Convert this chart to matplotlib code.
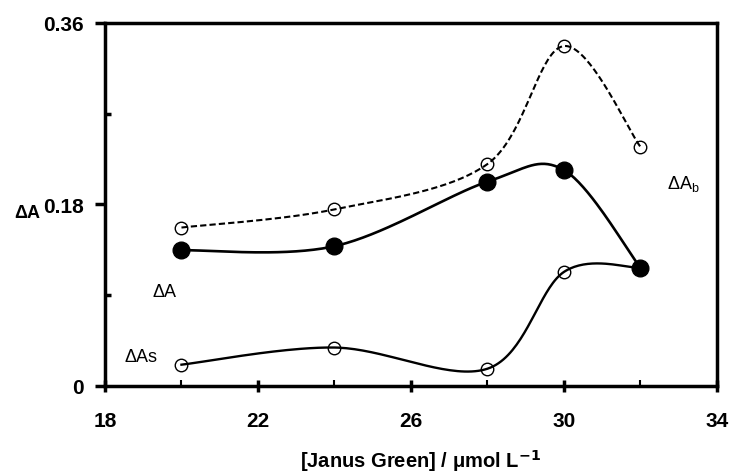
import matplotlib.pyplot as plt
import numpy as np

plt.rcParams['font.family'] = ['Liberation Sans', 'DejaVu Sans']

conc = [20, 24, 28, 30, 32]
dA_b = [0.157, 0.175, 0.220, 0.337, 0.237]
dA = [0.1345, 0.1385, 0.2025, 0.214, 0.117]
dA_s = [0.021, 0.038, 0.017, 0.113, 0.117]

x_ticks = [18, 22, 26, 30, 34]
y_ticks = [0, 0.18, 0.36]
y_tick_labels = ['0', '0.18', '0.36']


# smooth line like a spreadsheet "smoothed line" (Catmull-Rom through the points)
def smooth(xs, ys, n=40):
    xs = np.asarray(xs, float)
    ys = np.asarray(ys, float)
    px = np.concatenate([[xs[0]], xs, [xs[-1]]])
    py = np.concatenate([[ys[0]], ys, [ys[-1]]])
    outx, outy = [], []
    t = np.linspace(0, 1, n)
    for i in range(1, len(px) - 2):
        p0, p1, p2, p3 = [np.array([px[j], py[j]]) for j in range(i - 1, i + 3)]
        c1 = p1 + (p2 - p0) / 6
        c2 = p2 - (p3 - p1) / 6
        b = ((1 - t) ** 3)[:, None] * p1 + (3 * (1 - t) ** 2 * t)[:, None] * c1 \
            + (3 * (1 - t) * t ** 2)[:, None] * c2 + (t ** 3)[:, None] * p2
        outx.extend(b[:, 0])
        outy.extend(b[:, 1])
    return outx, outy


fig = plt.figure(figsize=(7.29, 4.77), dpi=100)
ax = fig.add_axes([0.144, 0.189, 0.8395, 0.761])

sx, sy = smooth(conc, dA_b)
ax.plot(sx, sy, color='black', lw=1.5, ls=(0, (3, 1.5)))
ax.plot(conc, dA_b, 'o', ms=9, mfc='none', mec='black', mew=1)

sx, sy = smooth(conc, dA_s)
ax.plot(sx, sy, color='black', lw=1.7)
ax.plot(conc[:4], dA_s[:4], 'o', ms=9, mfc='none', mec='black', mew=1)

sx, sy = smooth(conc, dA)
ax.plot(sx, sy, color='black', lw=1.9)
ax.plot(conc, dA, 'o', ms=12, mfc='black', mec='black')

ax.set_xlim(18, 34)
ax.set_ylim(0, 0.36)
ax.set_xticks(x_ticks)
ax.set_xticks([20, 24, 28, 32], minor=True)
ax.set_yticks(y_ticks)
ax.set_yticklabels(y_tick_labels)
ax.set_yticks([0.09, 0.27], minor=True)

for s in ax.spines.values():
    s.set_linewidth(2.5)

ax.tick_params(axis='both', which='major', labelsize=15, width=2.5, length=7, pad=8)
ax.tick_params(axis='x', which='major', direction='inout', length=8, pad=14)
ax.tick_params(axis='x', which='minor', direction='in', width=1.5, length=4)
ax.tick_params(axis='y', which='minor', direction='in', width=2.5, length=4)
for lab in ax.get_xticklabels() + ax.get_yticklabels():
    lab.set_fontweight('bold')

ax.set_xlabel('[Janus Green] / μmol L$^{\\mathbf{-1}}$', fontsize=14.5, fontweight='bold')
ax.xaxis.set_label_coords(0.516, -0.168)
fig.text(0.020, 0.553, 'ΔA', fontsize=13, fontweight='bold', va='center')

ax.text(19.23, 0.089, 'ΔA', fontsize=13)
ax.text(18.52, 0.025, 'ΔAs', fontsize=13)
ax.text(32.69, 0.196, 'ΔA$_\\mathregular{b}$', fontsize=13)

fig.savefig('out.png', dpi=100)
